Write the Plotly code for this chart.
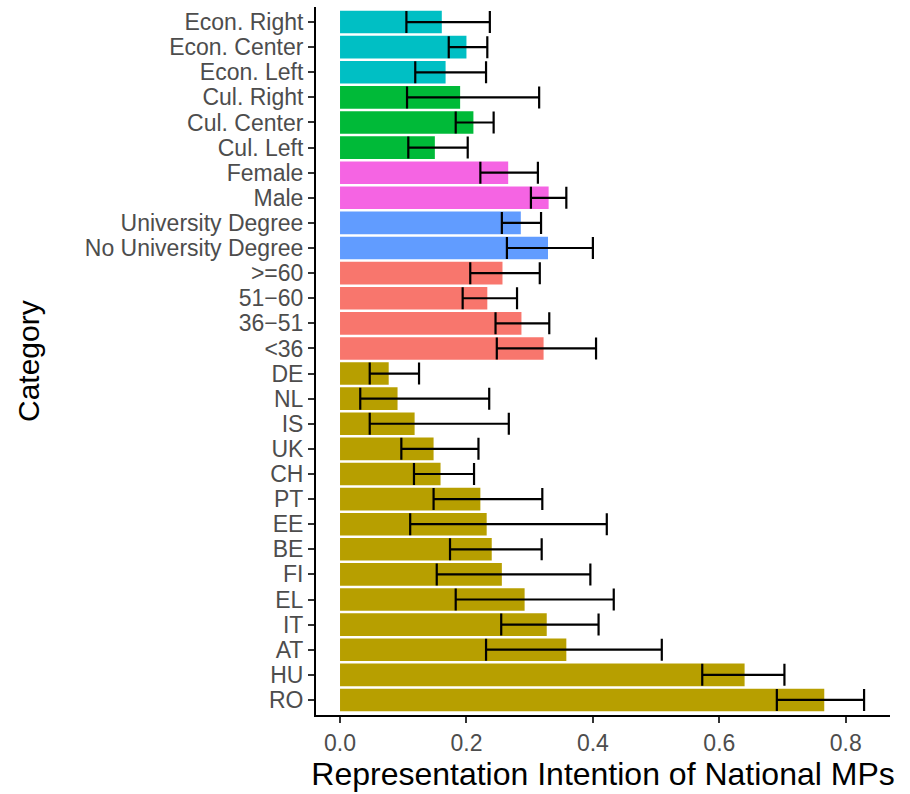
import plotly.graph_objects as go

categories = ["Econ. Right", "Econ. Center", "Econ. Left", "Cul. Right", "Cul. Center", "Cul. Left",
              "Female", "Male", "University Degree", "No University Degree",
              ">=60", "51\u221260", "36\u221251", "<36",
              "DE", "NL", "IS", "UK", "CH", "PT", "EE", "BE", "FI", "EL", "IT", "AT", "HU", "RO"]
groups = ["Econ"] * 3 + ["Cul"] * 3 + ["Gender"] * 2 + ["Edu"] * 2 + ["Age"] * 4 + ["Country"] * 14
values = [0.161, 0.200, 0.167, 0.190, 0.211, 0.150, 0.266, 0.330, 0.286, 0.329,
          0.257, 0.233, 0.287, 0.322,
          0.077, 0.091, 0.118, 0.148, 0.159, 0.222, 0.232, 0.240, 0.256, 0.292, 0.327, 0.358, 0.640, 0.766]
lower = [0.105, 0.172, 0.119, 0.106, 0.183, 0.108, 0.222, 0.302, 0.256, 0.264,
         0.206, 0.194, 0.246, 0.248,
         0.047, 0.032, 0.047, 0.097, 0.117, 0.148, 0.111, 0.174, 0.153, 0.183, 0.255, 0.231, 0.573, 0.691]
upper = [0.237, 0.233, 0.231, 0.315, 0.243, 0.202, 0.313, 0.358, 0.318, 0.400,
         0.316, 0.280, 0.331, 0.405,
         0.125, 0.236, 0.267, 0.219, 0.212, 0.320, 0.422, 0.319, 0.396, 0.433, 0.409, 0.509, 0.703, 0.829]
x_ticks = [0.0, 0.2, 0.4, 0.6, 0.8]
x_tick_labels = ["0.0", "0.2", "0.4", "0.6", "0.8"]
group_colors = {"Econ": "#00BFC4", "Cul": "#00BA38", "Gender": "#F564E3",
                "Edu": "#619CFF", "Age": "#F8766D", "Country": "#B79F00"}

colors = [group_colors[g] for g in groups]
err_plus = [u - v for u, v in zip(upper, values)]
err_minus = [v - l for v, l in zip(values, lower)]

fig = go.Figure()
fig.add_trace(go.Bar(
    x=values, y=categories, orientation="h",
    marker=dict(color=colors, line=dict(width=0)),
    error_x=dict(type="data", array=err_plus, arrayminus=err_minus, symmetric=False,
                 color="black", thickness=2.2, width=11),
    showlegend=False,
))

tick_font = dict(family="Liberation Sans, Arial, sans-serif", size=23, color="#4D4D4D")
title_font = dict(family="Liberation Sans, Arial, sans-serif", size=32, color="black")

fig.update_layout(
    width=910, height=794,
    margin=dict(l=316, r=20, t=7, b=79),
    paper_bgcolor="white", plot_bgcolor="white",
    bargap=0.1,
    xaxis=dict(range=[-0.038, 0.870], tickmode="array", tickvals=x_ticks, ticktext=x_tick_labels,
               showgrid=False, zeroline=False, showline=True, linecolor="black", linewidth=2,
               ticks="outside", ticklen=6, tickwidth=2, tickcolor="#333333",
               tickfont=tick_font,
               title=dict(text="Representation Intention of National MPs", font=title_font, standoff=2)),
    yaxis=dict(type="category", categoryorder="array", categoryarray=categories,
               tickmode="array", tickvals=categories, ticktext=categories,
               range=[len(categories) - 0.4, -0.6],
               showgrid=False, zeroline=False, showline=True, linecolor="black", linewidth=2,
               ticks="outside", ticklen=6, tickwidth=2, tickcolor="#333333",
               tickfont=tick_font),
    annotations=[dict(text="Category", textangle=-90, showarrow=False,
                      xref="paper", yref="paper", x=(28 - 316) / 574, y=0.5,
                      xanchor="center", yanchor="middle",
                      font=dict(family="Liberation Sans, Arial, sans-serif", size=30, color="black"))],
)

fig.write_html("out.html")
